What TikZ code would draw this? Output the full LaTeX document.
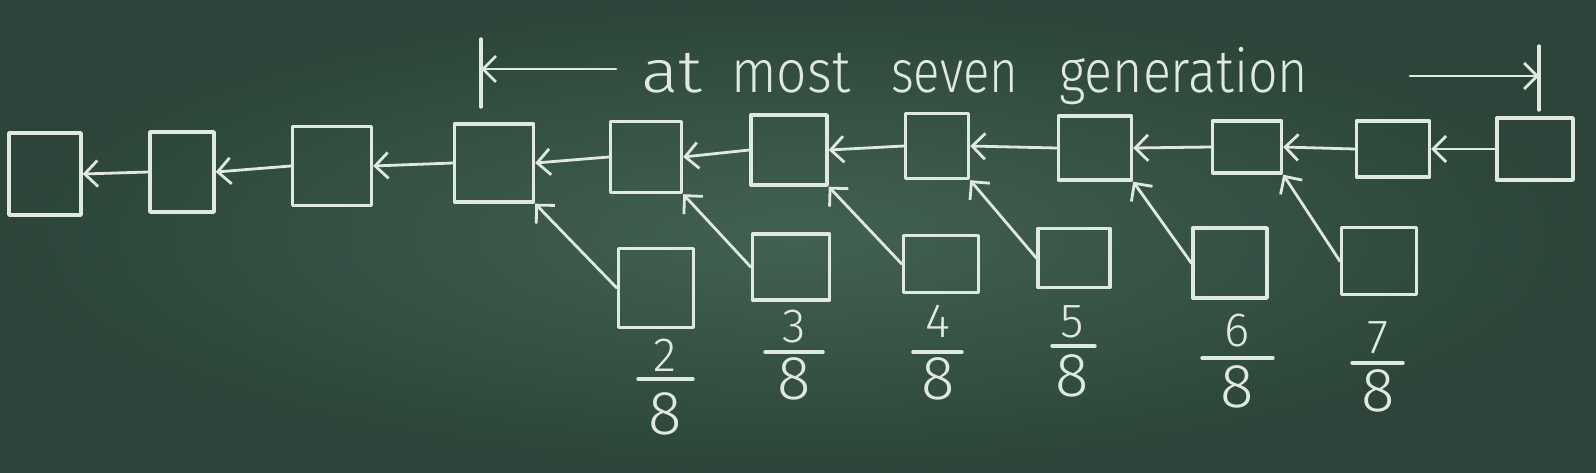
\documentclass[tikz,border=0pt]{standalone}
\usepackage{fontspec}
\usepackage{graphicx}
\newfontfamily\chalkfont{Fira Sans Light}
\usetikzlibrary{arrows.meta,calc}
\definecolor{boardlight}{RGB}{66,97,83}
\definecolor{boarddark}{RGB}{44,68,57}
\definecolor{chalk}{RGB}{224,232,226}
\tikzset{
  chalkline/.style={draw=chalk, line width=3.4pt, line cap=round, line join=round},
  cbox/.style={chalkline, rectangle, inner sep=0pt},
  carrow/.style={draw=chalk, line width=2.8pt, line cap=round,
    -{Straight Barb[length=13pt,width=26pt,line width=2.8pt]}},
  wordtxt/.style={text=chalk, inner sep=0pt, anchor=base west,
    font=\chalkfont\fontsize{60}{60}\selectfont},
  numer/.style={text=chalk, inner sep=0pt,
    font=\chalkfont\fontsize{48}{48}\selectfont},
  denom/.style={text=chalk, inner sep=0pt,
    font=\chalkfont\fontsize{62}{62}\selectfont},
}
\begin{document}
\begin{tikzpicture}[x=1pt,y=-1pt]
\useasboundingbox (0,0) rectangle (1596,472);
\shade[inner color=boardlight, outer color=boarddark] (0,0) rectangle (1596,472);

% top row
\node[cbox, minimum width=72pt, minimum height=82pt] (t1) at (45,174) {};
\node[cbox, minimum width=64pt, minimum height=80pt] (t2) at (182,172) {};
\node[cbox, minimum width=79pt, minimum height=79pt] (t3) at (332,166) {};
\node[cbox, minimum width=79pt, minimum height=78pt] (t4) at (494,163) {};
\node[cbox, minimum width=71pt, minimum height=71pt] (t5) at (646,157) {};
\node[cbox, minimum width=76pt, minimum height=70pt] (t6) at (789,150) {};
\node[cbox, minimum width=63pt, minimum height=65pt] (t7) at (937,146) {};
\node[cbox, minimum width=73pt, minimum height=64pt] (t8) at (1095,148) {};
\node[cbox, minimum width=69pt, minimum height=52pt] (t9) at (1247,147) {};
\node[cbox, minimum width=73pt, minimum height=56pt] (t10) at (1393,149) {};
\node[cbox, minimum width=76pt, minimum height=62pt] (t11) at (1535,149) {};

% bottom row
\node[cbox, minimum width=75pt, minimum height=79pt] (b2) at (656,288) {};
\node[cbox, minimum width=77pt, minimum height=66pt] (b3) at (791,267) {};
\node[cbox, minimum width=75pt, minimum height=57pt] (b4) at (941,264) {};
\node[cbox, minimum width=72pt, minimum height=59pt] (b5) at (1074,258) {};
\node[cbox, minimum width=74pt, minimum height=70pt] (b6) at (1230,263) {};
\node[cbox, minimum width=75pt, minimum height=67pt] (b7) at (1379,261) {};

% chain arrows
\foreach \a/\b in {t2/t1,t3/t2,t4/t3,t5/t4,t6/t5,t7/t6,t8/t7,t9/t8,t10/t9,t11/t10}
  \draw[carrow] (\a.west) -- (\b.east);

% side arrows
\draw[carrow] (b2.west) -- (t4.south east);
\draw[carrow] (b3.west) -- (t5.south east);
\draw[carrow] (b4.west) -- (t6.south east);
\draw[carrow] (b5.west) -- (t7.south east);
\draw[carrow] (b6.west) -- (t8.south east);
\draw[carrow] (b7.west) -- (t9.south east);

% dimension line
\coordinate (ltop) at (481,39);
\coordinate (lbot) at (481,107);
\coordinate (lmid) at (481,69);
\coordinate (lstart) at (616,69);
\coordinate (rtop) at (1539,46);
\coordinate (rbot) at (1539,110);
\coordinate (rmid) at (1539,76);
\coordinate (rstart) at (1410,76);
\draw[chalkline] (ltop) -- (lbot);
\draw[chalkline] (rtop) -- (rbot);
\draw[carrow] (lstart) -- (lmid);
\draw[carrow] (rstart) -- (rmid);

\node[wordtxt] (w1) at (641,92) {\resizebox{61pt}{\height}{at}};
\node[wordtxt] (w2) at (731,92) {\resizebox{119pt}{\height}{most}};
\node[wordtxt] (w3) at (891,92) {\resizebox{127pt}{\height}{seven}};
\node[wordtxt] (w4) at (1059,92) {\resizebox{249pt}{\height}{generation}};

% fractions
\node[numer] (n2) at (665,355) {2};
\node[denom] (d2) at (665,414) {8};
\draw[chalkline] (638,379) -- (693,379);
\node[numer] (n3) at (794,327) {3};
\node[denom] (d3) at (794,379) {8};
\draw[chalkline] (765,352) -- (823,352);
\node[numer] (n4) at (938,321) {4};
\node[denom] (d4) at (938,379) {8};
\draw[chalkline] (913,352) -- (962,352);
\node[numer] (n5) at (1072,322) {5};
\node[denom] (d5) at (1072,376) {8};
\draw[chalkline] (1052,346) -- (1095,346);
\node[numer] (n6) at (1237,331) {6};
\node[denom] (d6) at (1237,387) {8};
\draw[chalkline] (1202,358) -- (1273,358);
\node[numer] (n7) at (1378,338) {7};
\node[denom] (d7) at (1378,391) {8};
\draw[chalkline] (1352,363) -- (1403,363);
\end{tikzpicture}
\end{document}
